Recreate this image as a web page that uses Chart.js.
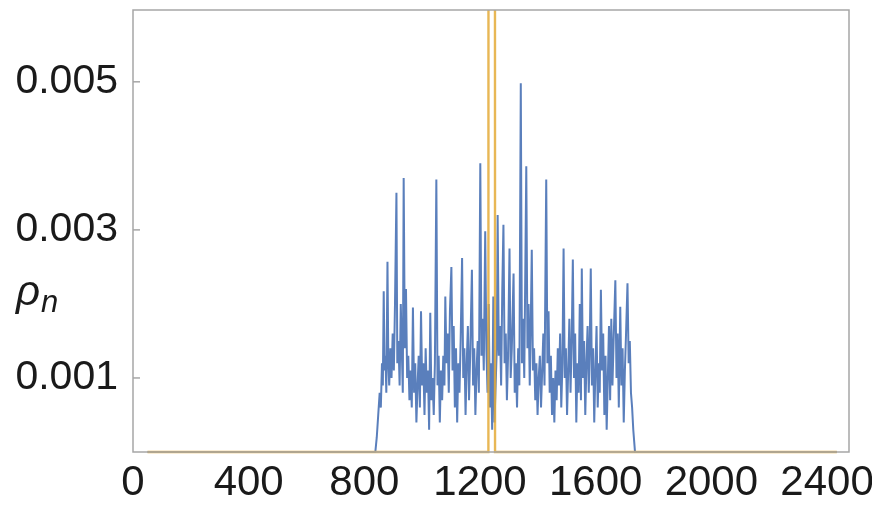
<!DOCTYPE html>
<html>
<head>
<meta charset="utf-8">
<script src="https://cdn.jsdelivr.net/npm/chart.js@4"></script>
<style>
  html, body { margin: 0; padding: 0; background: #fff; }
  #wrap { width: 872px; height: 505px; position: relative; }
</style>
</head>
<body>
<div id="wrap"><canvas id="chart"></canvas></div>
<script>
// site index n and density rho_n
const blueN = [50, 838, 843, 848, 853, 857, 861, 864, 867, 870, 873, 876, 880, 883, 886, 890, 894, 898, 902, 906,
  911, 914, 918, 922, 926, 930, 933, 936, 940, 944, 948, 952, 956, 960, 964, 968, 972, 976, 980, 984,
  988, 992, 996, 1000, 1004, 1008, 1012, 1016, 1020, 1024, 1028, 1032, 1036, 1040, 1044, 1049, 1053, 1057, 1061, 1065,
  1069, 1073, 1077, 1080, 1084, 1088, 1092, 1096, 1101, 1105, 1109, 1113, 1117, 1121, 1125, 1129, 1133, 1138, 1142, 1146,
  1150, 1154, 1158, 1162, 1166, 1172, 1176, 1180, 1184, 1188, 1192, 1196, 1201, 1205, 1209, 1213, 1218, 1222, 1226, 1230,
  1234, 1238, 1242, 1246, 1250, 1254, 1258, 1261, 1265, 1269, 1273, 1277, 1281, 1285, 1289, 1293, 1297, 1302, 1306, 1310,
  1316, 1320, 1324, 1328, 1332, 1336, 1341, 1345, 1349, 1353, 1356, 1360, 1364, 1368, 1372, 1375, 1379, 1383, 1387, 1391,
  1395, 1399, 1403, 1407, 1411, 1415, 1419, 1423, 1429, 1433, 1437, 1441, 1445, 1449, 1453, 1457, 1461, 1465, 1469, 1473,
  1477, 1481, 1485, 1489, 1493, 1497, 1501, 1505, 1509, 1513, 1517, 1521, 1525, 1529, 1533, 1537, 1541, 1545, 1549, 1552,
  1556, 1560, 1564, 1568, 1572, 1576, 1579, 1583, 1587, 1591, 1595, 1599, 1603, 1607, 1611, 1614, 1618, 1622, 1626, 1630,
  1634, 1638, 1642, 1646, 1650, 1654, 1658, 1662, 1668, 1672, 1676, 1680, 1685, 1689, 1693, 1697, 1701, 1705, 1710, 1714,
  1718, 1722, 1726, 1730, 1736, 2434];
const blueRho = [0, 0, 0.0002, 0.0005, 0.0008, 0.0006, 0.0012, 0.0009, 0.00217, 0.0011, 0.0013, 0.0008, 0.00257, 0.0012, 0.0009, 0.0014, 0.0010, 0.0016, 0.0011, 0.0020,
  0.0035, 0.0012, 0.0015, 0.0009, 0.0020, 0.0013, 0.0008, 0.0037, 0.0014, 0.0022, 0.0010, 0.0013, 0.0007, 0.0011, 0.0006, 0.00195, 0.0008, 0.0012, 0.0004, 0.0009,
  0.0013, 0.0006, 0.0019, 0.0009, 0.0012, 0.0005, 0.0014, 0.0008, 0.0011, 0.0003, 0.00188, 0.0007, 0.0010, 0.0005, 0.0012, 0.00368, 0.0009, 0.0013, 0.0004, 0.0011,
  0.0007, 0.0013, 0.0009, 0.0021, 0.0012, 0.0016, 0.0008, 0.0019, 0.0025, 0.0011, 0.0017, 0.0006, 0.0014, 0.0004, 0.0012, 0.0008, 0.0015, 0.00262, 0.0010, 0.0014,
  0.0005, 0.0012, 0.0017, 0.0007, 0.0013, 0.00246, 0.0009, 0.0014, 0.0005, 0.0011, 0.0015, 0.0008, 0.0039, 0.0013, 0.0018, 0.0011, 0.00298, 0.0014, 0.0008, 0.0020,
  0.0006, 0.0012, 0.0003, 0.0021, 0.0004, 0.0009, 0.0014, 0.0032, 0.0013, 0.0017, 0.0009, 0.0022, 0.00307, 0.0012, 0.0016, 0.0007, 0.0013, 0.00275, 0.0010, 0.0014,
  0.00241, 0.0008, 0.0012, 0.0006, 0.0014, 0.0009, 0.00498, 0.0012, 0.0018, 0.0010, 0.0022, 0.00386, 0.0014, 0.0020, 0.0009, 0.0016, 0.00273, 0.0011, 0.0014, 0.0007,
  0.0012, 0.0005, 0.0010, 0.0013, 0.0006, 0.0011, 0.0016, 0.0009, 0.00368, 0.0012, 0.0019, 0.0008, 0.0013, 0.0005, 0.0010, 0.0004, 0.0011, 0.0007, 0.0014, 0.0009,
  0.0016, 0.0006, 0.0012, 0.00275, 0.0010, 0.0014, 0.0005, 0.0011, 0.0018, 0.0008, 0.0015, 0.0026, 0.0010, 0.0016, 0.0004, 0.0012, 0.0008, 0.0020, 0.0007, 0.00248,
  0.0010, 0.0015, 0.0005, 0.0012, 0.0017, 0.0008, 0.0013, 0.00248, 0.0009, 0.0014, 0.0004, 0.0011, 0.0017, 0.0006, 0.0012, 0.0008, 0.00219, 0.0011, 0.0016, 0.0005,
  0.0013, 0.0003, 0.0010, 0.0017, 0.0007, 0.0018, 0.0009, 0.0015, 0.00232, 0.0010, 0.0016, 0.0006, 0.00196, 0.0009, 0.0014, 0.0004, 0.0011, 0.0016, 0.00228, 0.0012,
  0.0015, 0.0008, 0.0006, 0.0003, 0, 0];

// narrow peak that shoots far above the visible range
const orangeN = [50, 1229, 1240, 1252, 2434];
const orangeRho = [0, 0, 0.3, 0, 0];

const xTicks = [0, 400, 800, 1200, 1600, 2000, 2400];
const yTicks = [0.001, 0.003, 0.005];

const toPoints = (xs, ys) => xs.map((x, i) => ({ x: x, y: ys[i] }));

const frame = {
  id: 'frame',
  afterDraw(chart) {
    const { ctx, chartArea: a, scales } = chart;
    ctx.save();
    ctx.strokeStyle = '#a6a6a6';
    ctx.lineWidth = 1.5;
    ctx.strokeRect(a.left, a.top, a.right - a.left, a.bottom - a.top);
    // small inward ticks on the left side
    yTicks.forEach(v => {
      const y = scales.y.getPixelForValue(v);
      ctx.beginPath();
      ctx.moveTo(a.left, y);
      ctx.lineTo(a.left + 7, y);
      ctx.stroke();
    });
    // axis label rho_n
    ctx.fillStyle = '#1a1a1a';
    ctx.textBaseline = 'alphabetic';
    ctx.font = 'italic 42px "Liberation Sans"';
    ctx.fillText('ρ', 16, 305);
    ctx.font = 'italic 31px "Liberation Sans"';
    ctx.fillText('n', 41, 312);
    ctx.restore();
  }
};

const noPad = s => { s.paddingTop = 0; s.paddingBottom = 0; s.paddingLeft = 0; s.paddingRight = 0; };

new Chart(document.getElementById('chart'), {
  type: 'line',
  data: {
    datasets: [
      {
        label: 'peak',
        data: toPoints(orangeN, orangeRho),
        borderColor: 'rgba(228, 170, 55, 0.85)',
        borderWidth: 2.4,
        pointRadius: 0,
        tension: 0,
        order: 0,
        clip: { left: 0, top: 0, right: 0, bottom: 3 }
      },
      {
        label: 'rho',
        data: toPoints(blueN, blueRho),
        borderColor: '#5a7fbc',
        borderWidth: 2,
        pointRadius: 0,
        tension: 0,
        order: 1,
        clip: { left: 0, top: 0, right: 0, bottom: 3 }
      }
    ]
  },
  options: {
    responsive: true,
    maintainAspectRatio: false,
    animation: false,
    layout: { padding: { top: 10, right: 23, left: 0, bottom: 0 } },
    plugins: { legend: { display: false }, tooltip: { enabled: false } },
    scales: {
      x: {
        type: 'linear',
        min: 0,
        max: 2476,
        afterBuildTicks: s => { s.ticks = xTicks.map(v => ({ value: v })); },
        afterFit: s => { s.height = 53; noPad(s); },
        grid: { display: false, drawTicks: false },
        border: { display: false },
        ticks: {
          color: '#1a1a1a',
          font: { family: '"Liberation Sans"', size: 42 },
          padding: 6,
          maxRotation: 0,
          autoSkip: false,
          callback: v => String(v)
        }
      },
      y: {
        type: 'linear',
        min: 0,
        max: 0.00597,
        afterBuildTicks: s => { s.ticks = yTicks.map(v => ({ value: v })); },
        afterFit: s => { s.width = 133; noPad(s); },
        grid: { display: false, drawTicks: false },
        border: { display: false },
        ticks: {
          color: '#1a1a1a',
          font: { family: '"Liberation Sans"', size: 41 },
          padding: 15,
          autoSkip: false,
          callback: v => String(v)
        }
      }
    }
  },
  plugins: [frame]
});
</script>
</body>
</html>
